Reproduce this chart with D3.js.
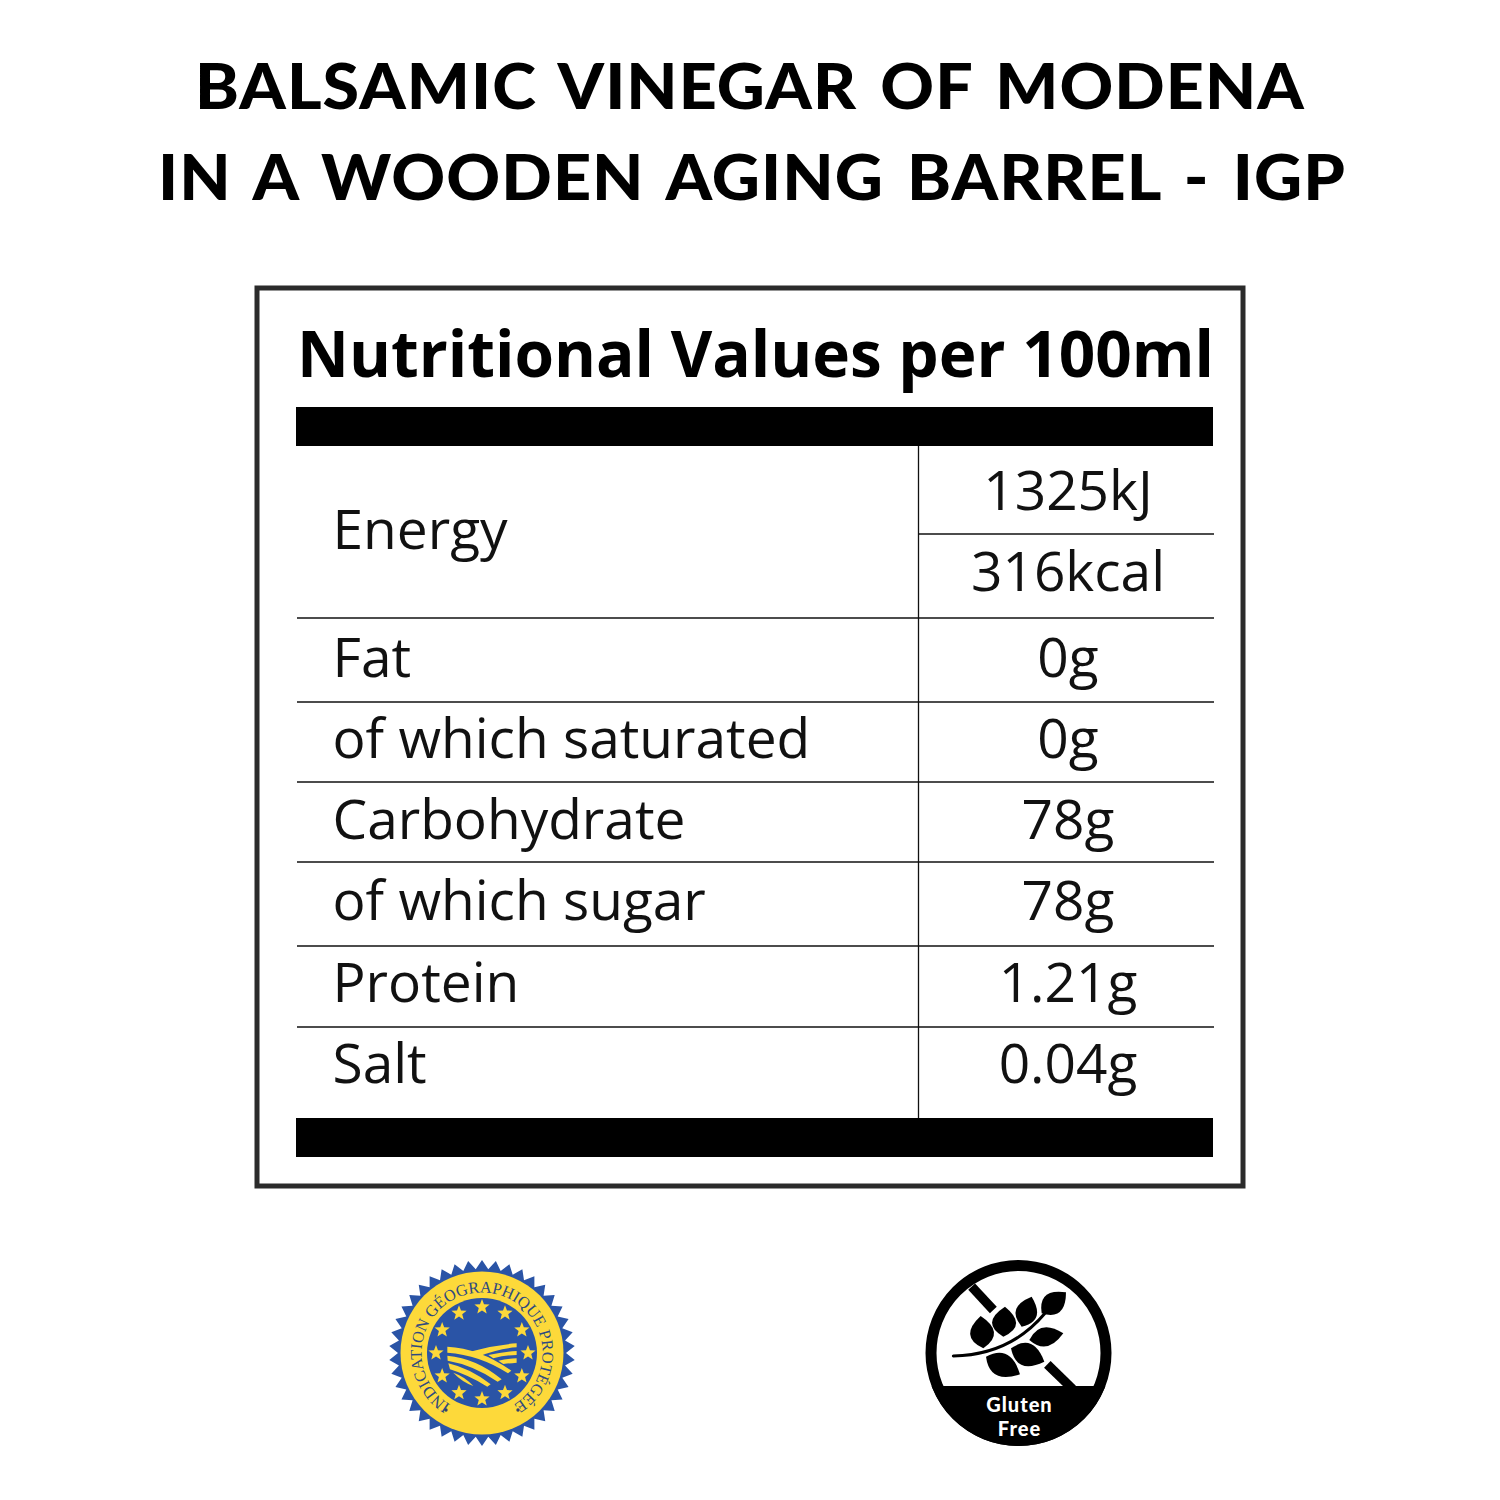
<!DOCTYPE html>
<html><head><meta charset="utf-8">
<script src="https://cdn.jsdelivr.net/npm/d3@7"></script>
<style>html,body{margin:0;padding:0;background:#fff}svg{display:block}</style>
</head><body><svg id="c" width="1500" height="1500"></svg>
<script>
const titleLines = ["BALSAMIC VINEGAR OF MODENA", "IN A WOODEN AGING BARREL - IGP"];
const tableTitle = "Nutritional Values per 100ml";
const nutrients = ["Energy", "Fat", "of which saturated", "Carbohydrate", "of which sugar", "Protein", "Salt"];
const amounts = ["1325kJ", "316kcal", "0g", "0g", "78g", "78g", "1.21g", "0.04g"];
const badgeText = "INDICATION GÉOGRAPHIQUE PROTÉGÉE";
const glutenText = ["Gluten", "Free"];

const svg = d3.select("#c");
svg.append("rect").attr("width",1500).attr("height",1500).attr("fill","#fff");

// Title
const titleLayout = [{y:109,x0:195,x1:1305},{y:200,x0:158,x1:1346}];
svg.selectAll("text.title").data(titleLines).join("text").attr("class","title")
  .attr("x",(d,i)=>titleLayout[i].x0).attr("y",(d,i)=>titleLayout[i].y)
  .attr("textLength",(d,i)=>titleLayout[i].x1-titleLayout[i].x0)
  .attr("lengthAdjust","spacingAndGlyphs")
  .attr("font-family","Lato").attr("font-weight",900).attr("font-size",63).attr("fill","#000")
  .attr("word-spacing",6).attr("letter-spacing",1)
  .text(d=>d);

// Table frame
svg.append("rect").attr("x",257).attr("y",288).attr("width",986).attr("height",898)
  .attr("fill","none").attr("stroke","#2b2b2b").attr("stroke-width",5);
svg.append("text").attr("x",297).attr("y",377).attr("textLength",917).attr("lengthAdjust","spacingAndGlyphs")
  .attr("font-family","Open Sans").attr("font-weight",700).attr("font-size",65).attr("fill","#000").text(tableTitle);

[[407,39],[1118,39]].forEach(([y,h])=>svg.append("rect").attr("x",296).attr("y",y).attr("width",917).attr("height",h).attr("fill","#000"));

const rules = [618,702,782,862,946,1027];
svg.selectAll("line.rule").data(rules).join("line").attr("class","rule")
  .attr("x1",297).attr("x2",1214).attr("y1",d=>d).attr("y2",d=>d).attr("stroke","#111").attr("stroke-width",1.3);
svg.append("line").attr("x1",918.5).attr("x2",918.5).attr("y1",446).attr("y2",1118).attr("stroke","#111").attr("stroke-width",1.3);
svg.append("line").attr("x1",918).attr("x2",1214).attr("y1",534).attr("y2",534).attr("stroke","#111").attr("stroke-width",1.3);

const labelBase = [549,677,758,839,920,1002,1083];
const valueBase = [510,591,677,758,839,920,1002,1083];
svg.selectAll("text.lab").data(nutrients).join("text").attr("class","lab")
  .attr("x",332.5).attr("y",(d,i)=>labelBase[i])
  .attr("font-family","Open Sans").attr("font-size",55).attr("fill","#111").text(d=>d);
svg.selectAll("text.val").data(amounts).join("text").attr("class","val")
  .attr("x",1068).attr("y",(d,i)=>valueBase[i]).attr("text-anchor","middle")
  .attr("font-family","Open Sans").attr("font-size",55).attr("fill","#111").text(d=>d);

// IGP badge
const BLUE="#2a54a6", YEL="#fdd93a";
const badge = svg.append("g").attr("transform","translate(482,1353)");
const nTeeth=42;
const teeth=d3.range(nTeeth*2).map(i=>[i*Math.PI/nTeeth, i%2?84:93]);
badge.append("path").attr("d",d3.lineRadial().curve(d3.curveLinearClosed)(teeth)).attr("fill",BLUE);
badge.append("circle").attr("r",81.5).attr("fill",YEL);
badge.append("circle").attr("r",55).attr("fill",BLUE);
const starPts=d3.range(10).map(i=>[i*Math.PI/5, i%2?3.4:8]);
const starD=d3.lineRadial().curve(d3.curveLinearClosed)(starPts);
d3.range(12).forEach(i=>{
  const a=i*Math.PI/6;
  badge.append("path").attr("d",starD).attr("fill",YEL)
    .attr("transform",`translate(${46*Math.sin(a)},${-46*Math.cos(a)})`);
});
[-1,1].forEach(s=>badge.append("circle").attr("cx",s*36).attr("cy",57).attr("r",1.7).attr("fill","#33406b"));
const R=60.5, a0=-172*Math.PI/180, a1=172*Math.PI/180;
svg.append("defs").append("path").attr("id","arc")
  .attr("d",`M${R*Math.sin(a0)},${-R*Math.cos(a0)} A${R},${R} 0 1 1 ${R*Math.sin(a1)},${-R*Math.cos(a1)}`);
badge.append("text").attr("font-family","Liberation Serif").attr("font-size",16.3).attr("fill","#2f4a80")
  .append("textPath").attr("href","#arc").attr("startOffset","50%").attr("text-anchor","middle")
  .text(badgeText);
const fields = [
 "M232,320 Q330,325 424,392 L414,400 Q330,345 232,338 Z",
 "M232,347 Q320,355 395,418 L383,425 Q310,375 233,362 Z",
 "M235,370 Q300,385 362,433 L352,440 Q295,405 240,388 Z",
 "M250,398 Q285,410 310,438 Q275,425 250,398 Z",
 "M300,335 Q370,315 440,310 L440,322 Q385,325 325,350 Z",
 "M355,345 Q400,335 440,333 L440,345 Q405,345 370,355 Z",
 "M385,362 Q415,355 440,355 L440,368 Q420,370 400,372 Z"];
svg.append("g").attr("transform","translate(370,1240) scale(0.3333)")
  .selectAll("path").data(fields).join("path").attr("d",d=>d).attr("fill",YEL);

// Gluten free icon
const icon = svg.append("g").attr("transform","translate(1018.5,1353)");
const clipId="gfclip";
svg.select("defs").append("clipPath").attr("id",clipId).append("circle").attr("r",93);
icon.append("circle").attr("r",87.5).attr("fill","#fff").attr("stroke","#000").attr("stroke-width",11);
icon.append("g").attr("clip-path",`url(#${clipId})`).append("rect")
  .attr("x",-93).attr("y",33).attr("width",186).attr("height",60).attr("fill","#000");
const gf = svg.append("g").attr("transform","translate(910,1245) scale(0.3333)");
[["M185,125 L250,195"],["M412,358 L488,432"]].forEach(([d])=>
  gf.append("path").attr("d",d).attr("stroke","#000").attr("stroke-width",28).attr("fill","none"));
gf.append("path").attr("d","M130,333 Q300,330 405,205").attr("fill","none").attr("stroke","#000").attr("stroke-width",9).attr("stroke-linecap","round");
const leaves=[[468,142,395,205,34],[365,155,335,245,34],[285,185,280,275,38],[212,213,220,310,38],[460,265,358,285,30],[403,350,303,310,36],[330,388,228,335,36]];
function leaf([x1,y1,x0,y0,w]){
  const dx=x1-x0,dy=y1-y0,l=Math.hypot(dx,dy),nx=-dy/l*w*1.9,ny=dx/l*w*1.9;
  const bx=x0+dx*0.42,by=y0+dy*0.42;
  return `M${x0},${y0} Q${bx+nx},${by+ny} ${x1},${y1} Q${bx-nx},${by-ny} ${x0},${y0} Z`;
}
gf.selectAll("path.leaf").data(leaves).join("path").attr("class","leaf").attr("d",leaf).attr("fill","#000");
const gfBase=[1412,1436];
svg.selectAll("text.gf").data(glutenText).join("text").attr("class","gf")
  .attr("x",1019.5).attr("y",(d,i)=>gfBase[i]).attr("text-anchor","middle")
  .attr("font-family","Lato").attr("font-weight",900).attr("font-size",20).attr("letter-spacing",1).attr("fill","#fff").text(d=>d);
</script></body></html>
